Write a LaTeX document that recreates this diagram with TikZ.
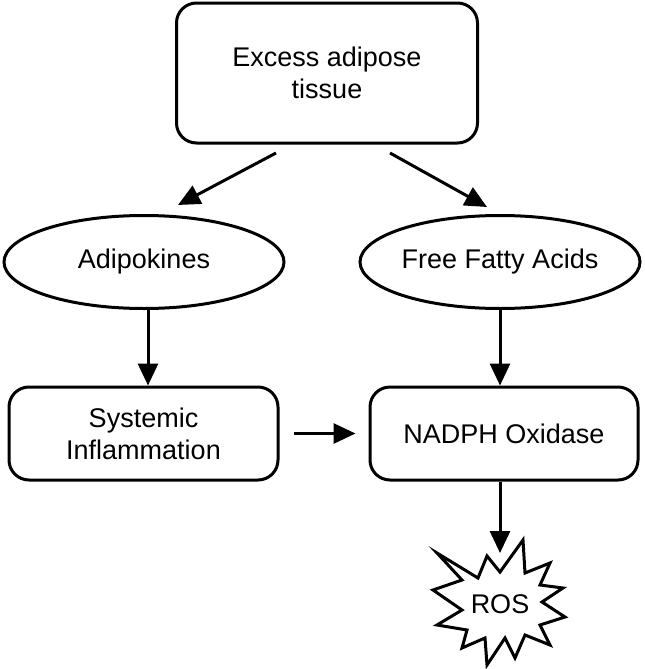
\documentclass[tikz,border=0pt]{standalone}
\usepackage{fontspec}
\setmainfont{Liberation Sans}
\usetikzlibrary{shapes.geometric,arrows.meta,calc}
\begin{document}
\begin{tikzpicture}[x=0.5pt,y=-0.5pt,
  every node/.style={font=\fontsize{13.5}{16}\selectfont, align=center, inner sep=0pt},
  rbox/.style={draw, line width=1.5pt, rounded corners=10pt},
  oval/.style={draw, ellipse, line width=1.5pt, minimum width=140pt, minimum height=46.5pt},
  arr/.style={line width=1.5pt, -{Triangle[length=11pt,width=10pt]}}]
\useasboundingbox (0,0) rectangle (644,669);
\node[rbox, minimum width=150.5pt, minimum height=70pt] (top) at (327,73) {Excess adipose\\tissue};
\node[oval] (adipo) at (144,262) {Adipokines};
\node[oval] (ffa) at (500,262) {Free Fatty Acids};
\node[rbox, minimum width=134.5pt, minimum height=46.5pt] (sys) at (143.5,433.5) {Systemic\\Inflammation};
\node[rbox, minimum width=134pt, minimum height=46.5pt] (nadph) at (504,433.5) {NADPH Oxidase};
\draw[line width=1.5pt, fill=white, line join=miter]
  (437,553) -- (478,578) -- (487,556) -- (500,572) -- (523,540) -- (525,573)
  -- (550,563) -- (540,585) -- (563,588) -- (542,602) -- (565,617) -- (540,625)
  -- (550,645) -- (525,635) -- (515,658) -- (505,638) -- (487,665) -- (485,638)
  -- (462,648) -- (467,630) -- (437,625) -- (462,610) -- (433,590) -- (462,580) -- cycle;
\node (ros) at (500,604) {ROS};
\coordinate (t1) at (276,153);
\coordinate (e1) at (178,205);
\coordinate (t2) at (390,153);
\coordinate (e2) at (487,207);
\coordinate (rostop) at (500,553);
\draw[arr] (t1) -- (e1);
\draw[arr] (t2) -- (e2);
\draw[arr] (adipo.south -| 148,0) -- (sys.north -| 148,0);
\draw[arr] (ffa.south) -- (ffa.south |- nadph.north);
\draw[arr, shorten <=14pt*0.5, shorten >=13pt*0.5] (sys.east) -- (nadph.west);
\draw[arr] (nadph.south -| rostop) -- (rostop);
\end{tikzpicture}
\end{document}
